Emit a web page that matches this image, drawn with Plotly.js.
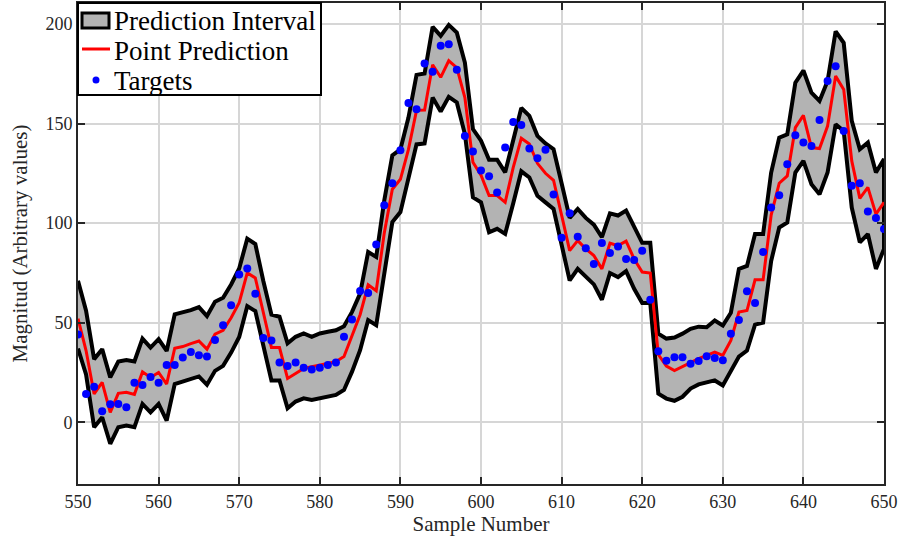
<!DOCTYPE html>
<html>
<head>
<meta charset="utf-8">
<script src="https://cdn.plot.ly/plotly-3.0.1.min.js"></script>
<style>html,body{margin:0;padding:0;background:#fff;}#chart{width:903px;height:540px;}</style>
</head>
<body>
<div id="chart"></div>
<script>
const xStart = 550;
const targets = [44,14.2,17.8,5.5,9,9.2,7.5,19.8,18.7,22.7,
19.8,28.7,28.8,32.5,35.3,33.7,33,41.3,48.7,58.8,
74.2,77.2,64.5,42.3,41,30,28.2,30,27.4,26.5,
27.4,28.7,30,42.9,51.6,65.9,64.9,89.3,109,120,
136.6,160.3,157.1,180.1,176,189,189.8,177,143.7,135.9,
126.4,123.5,115.4,138,150.8,149.3,137.5,132.6,136.8,114.3,
92.6,104.9,93.2,87.4,79.4,90,85,88.3,82,81.5,
86.1,61.5,35.6,30.9,32.7,32.7,29.4,30.7,33.2,32.2,
31.1,44.4,51.3,65.8,59.9,85.5,107.8,114,129.5,144.1,
140.4,138.7,151.8,171.3,178.8,146.2,118.7,120,105.8,102.5,
97];
const prediction = [52,36,14.2,20,5,14.5,15,14,25.3,22.5,
25,19.2,37.2,38,39.5,40.8,36.7,44.2,46.2,52.5,
60,75,72.5,54.2,37.5,37.5,22,24.5,27,27.9,
28.7,29.5,30.4,33,43,54,69,66,95,117,
122,137,156.6,156.8,179.5,173.2,181.5,178,163,130.5,
124,113.8,113.8,110.4,128,142.6,139.7,130,125,121.5,
104,86.2,91.2,87.1,83.7,77,89.9,88.7,90.9,82,
75.4,74.9,34,28.2,25.9,28,29.7,31.9,33.6,35.2,
33.6,41.1,55.3,56.1,71.5,71.5,104,120,123.7,147.9,
154.1,137.9,137.4,148.7,173.8,167.1,131.2,112.4,117.9,104.5,
110.4];
const upperBound = [71,56,31.7,36.7,22.5,30.5,31.2,30.5,42,37.5,
41.7,35.8,54.2,55,56.3,57.8,53.3,60.5,62.5,69.2,
77.2,92.2,89.5,70.8,54,53,39.6,42.9,44.6,42.9,
44.6,45.4,46.2,48.2,55.4,64.6,85.5,83,111.4,134,
137,153,174.4,175.1,198.5,194,199.5,195.6,180.6,147.2,
141.4,131.8,131.8,125.5,142,157.8,153.8,143.8,140,137.1,
120,102.6,107.1,102.6,99.2,92.9,104.9,103.8,106.3,97.9,
90.1,90.1,44.5,42,42.5,44.5,46.9,48,47.7,51.1,
48.6,55,77,78.5,94.5,94.5,125.4,142.9,144.6,170.5,
176.6,165.5,161.3,171.3,196.3,190.5,151.3,137.1,140.4,125.4,
132.2];
const lowerBound = [37,24,-2.5,2.5,-10.8,-2.5,-1.7,-2.5,9.2,5,
9.2,0.8,19.2,20,21.7,23,18.8,25.8,28.3,35,
42.8,58.3,55.8,38.3,21,21,7,10.4,12,11.2,
12.5,12.9,13.7,16.2,25.4,36.2,51.3,48.7,74.6,100.5,
105.5,123,139.5,140,163,156,163.4,160.6,144.7,112.9,
110.4,95.4,97.1,94.6,110,126,122.9,113.7,110.4,107.1,
89.6,71.2,77,72.9,69.2,61.5,74.9,72.9,75.9,67,
59.9,59.9,14.4,11.9,10.8,12.8,16.9,19,20.2,21,
18.5,26,33,36,49,50,81,97.8,100.3,125.4,
131.2,119.5,114.5,125.4,149.6,146.2,107.8,90.3,94.5,77,
87];
const xTicks = [550,560,570,580,590,600,610,620,630,640,650];
const yTicks = [0,50,100,150,200];
const seriesNames = ['Prediction Interval', 'Point Prediction', 'Targets'];

const xs = targets.map((_, i) => xStart + i);
const bandX = xs.concat(xs.slice().reverse());
const bandY = upperBound.concat(lowerBound.slice().reverse());

const axisColor = '#262626';
const fontFam = '"Liberation Serif", "Times New Roman", serif';
const bandFill = '#b3b3b3';

const traces = [
  {x: bandX, y: bandY, type: 'scatter', mode: 'lines', fill: 'toself',
   fillcolor: bandFill, line: {color: '#000000', width: 4},
   name: seriesNames[0], hoverinfo: 'skip', showlegend: false},
  {x: xs, y: prediction, type: 'scatter', mode: 'lines',
   line: {color: '#ff0000', width: 3}, name: seriesNames[1], showlegend: false},
  {x: xs, y: targets, type: 'scatter', mode: 'markers',
   marker: {color: '#0000ff', size: 8}, name: seriesNames[2], showlegend: false}
];

// legend drawn in paper coordinates (plot area: 806 x 481 px)
const PW = 806, PH = 481;
const px = v => v / PW;
const py = v => 1 - v / PH;   // v = pixels down from top of plot area

const shapes = [
  {type: 'rect', xref: 'paper', yref: 'paper', x0: px(0), x1: px(243), y0: py(92), y1: py(0),
   fillcolor: '#ffffff', line: {color: '#000000', width: 2}, layer: 'above'},
  {type: 'rect', xref: 'paper', yref: 'paper', x0: px(4), x1: px(31), y0: py(25), y1: py(10),
   fillcolor: bandFill, line: {color: '#000000', width: 3}, layer: 'above'},
  {type: 'line', xref: 'paper', yref: 'paper', x0: px(4), x1: px(32), y0: py(46), y1: py(46),
   line: {color: '#ff0000', width: 3}, layer: 'above'},
  {type: 'circle', xref: 'paper', yref: 'paper', x0: px(14.5), x1: px(21.5), y0: py(80.5), y1: py(73.5),
   fillcolor: '#0000ff', line: {color: '#0000ff', width: 0}, layer: 'above'}
];
const legendRows = [18, 48, 78];
const annotations = seriesNames.map((t, i) => ({
  text: t, xref: 'paper', yref: 'paper', x: px(34), y: py(legendRows[i]),
  xanchor: 'left', yanchor: 'middle', showarrow: false,
  font: {family: fontFam, size: 27, color: '#000000'}
}));

const layout = {
  width: 903, height: 540,
  margin: {l: 78, r: 19, t: 3, b: 56},
  paper_bgcolor: '#ffffff', plot_bgcolor: '#ffffff',
  font: {family: fontFam, color: axisColor, size: 18},
  showlegend: false,
  shapes: shapes,
  annotations: annotations,
  xaxis: {range: [550, 650], tickvals: xTicks, ticktext: xTicks.map(String),
    ticks: 'inside', ticklen: 7, tickwidth: 2, tickcolor: axisColor,
    showline: true, linewidth: 2, linecolor: axisColor, mirror: 'allticks',
    showgrid: true, gridcolor: '#d6d6d6', gridwidth: 2, zeroline: false,
    tickfont: {size: 18, family: fontFam, color: axisColor},
    title: {text: 'Sample Number', font: {size: 21, family: fontFam, color: axisColor}, standoff: 1},
    automargin: false},
  yaxis: {range: [-31, 210.5], tickvals: yTicks, ticktext: yTicks.map(String),
    ticks: 'inside', ticklen: 7, tickwidth: 2, tickcolor: axisColor,
    showline: true, linewidth: 2, linecolor: axisColor, mirror: 'allticks',
    showgrid: true, gridcolor: '#d6d6d6', gridwidth: 2, zeroline: false,
    tickfont: {size: 18, family: fontFam, color: axisColor},
    title: {text: 'Magnitud (Arbitrary values)', font: {size: 21, family: fontFam, color: axisColor}, standoff: 12},
    automargin: false}
};

Plotly.newPlot('chart', traces, layout, {staticPlot: true, displayModeBar: false});
</script>
</body>
</html>
